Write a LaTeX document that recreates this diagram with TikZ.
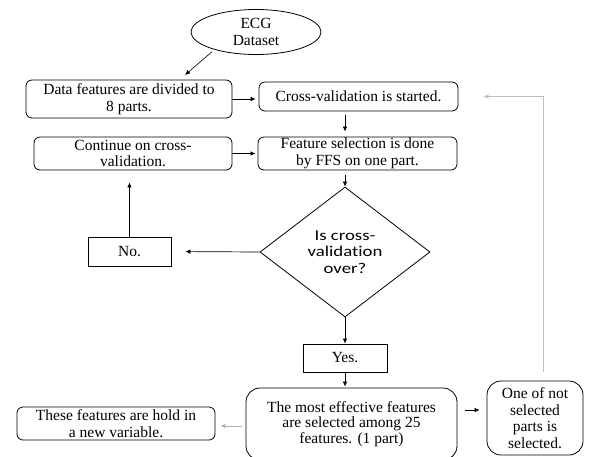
\documentclass[tikz,border=0pt]{standalone}
\usepackage{fontspec}
\setmainfont{Liberation Serif}
\newfontfamily\diafont[FakeStretch=1.25,Ligatures={NoCommon}]{Carlito}
\usetikzlibrary{shapes.geometric,arrows.meta,calc}
\tikzset{
  arr/.style={-{Latex[length=5pt,width=4.5pt]},line width=0.7pt},
  rbox/.style={draw,line width=0.8pt,rounded corners=6pt,align=center,inner sep=0pt,font=\fontsize{15.5}{16.5}\selectfont},
  sbox/.style={draw,line width=0.8pt,align=center,inner sep=0pt,font=\fontsize{15.5}{16.5}\selectfont},
}
\begin{document}
\begin{tikzpicture}[x=1pt,y=1pt]
\useasboundingbox (0,0) rectangle (593,-456);
\node[draw,ellipse,line width=0.8pt,minimum width=130pt,minimum height=45pt,inner sep=0pt,align=center,font=\fontsize{15.5}{16.5}\selectfont] (ecg) at (256,-32) {ECG\\Dataset};
\node[rbox,minimum width=206pt,minimum height=38pt] (box1) at (129,-99) {Data features are divided to\\8 parts.};
\node[rbox,minimum width=199pt,minimum height=29pt] (box2) at (358.5,-96.5) {Cross-validation is started.};
\node[rbox,minimum width=199pt,minimum height=33pt] (box3) at (357.5,-153.5) {Feature selection is done\\by FFS on one part.};
\node[rbox,minimum width=198pt,minimum height=33pt] (cont) at (133,-153.5) {Continue on cross-\\validation.};
\node[draw,diamond,line width=0.8pt,minimum width=170pt,minimum height=130pt,inner sep=0pt,aspect=1.3,align=center,font=\diafont\fontsize{15}{16.5}\selectfont] (dia) at (345,-252) {Is cross-\\validation\\over?};
\node[sbox,minimum width=83pt,minimum height=29pt] (no) at (129.5,-251.5) {No.};
\node[sbox,minimum width=84pt,minimum height=28pt] (yes) at (345,-358) {Yes.};
\node[rbox,rounded corners=14pt,minimum width=211pt,minimum height=72pt,font=\fontsize{15.5}{15.5}\selectfont] (big) at (351.5,-424) {The most effective features\\are selected among 25\\features. (1 part)};
\node[rbox,minimum width=198pt,minimum height=33pt] (these) at (116,-423.5) {These features are hold in\\a new variable.};
\node[rbox,rounded corners=14pt,minimum width=96pt,minimum height=74pt] (one) at (535,-418) {One of not\\selected\\parts is\\selected.};
\coordinate (ecgend) at (185,-75);
\draw[arr,line width=0.6pt,shorten <=3pt] (ecg.203) -- (ecgend);
\draw[arr] (box1.east) -- ($(box2.west |- box1.east)+(-3,0)$);
\draw[arr] (cont.east) -- ($(box3.west |- cont.east)+(-2,0)$);
\draw[arr,shorten <=4pt,shorten >=5pt] (box2.south -| dia.north) -- (box3.north -| dia.north);
\draw[arr,shorten <=5pt] (box3.south -| dia.north) -- (dia.north);
\draw[arr,shorten >=14pt] (dia.west) -- (no.east);
\draw[arr,shorten >=12pt] (no.north) -- (no.north |- cont.south);
\draw[arr] (dia.south) -- (yes.north);
\draw[arr,shorten >=1pt] (yes.south) -- (big.north -| yes.south);
\draw[arr,gray!50,line width=0.7pt] ($(one.north)+(8,9)$) |- ($(box2.east)+(25,0)$);
\draw[arr,gray!60,line width=0.7pt,shorten <=4pt,shorten >=5pt] ($(big.west)+(0,-2)$) -- ($(these.east)+(0,-2.5)$);
\draw[arr,line width=0.6pt,shorten <=8pt,shorten >=7pt] ($(big.east)+(0,14)$) -- ($(one.west |- big.east)+(0,14)$);
\end{tikzpicture}
\end{document}
